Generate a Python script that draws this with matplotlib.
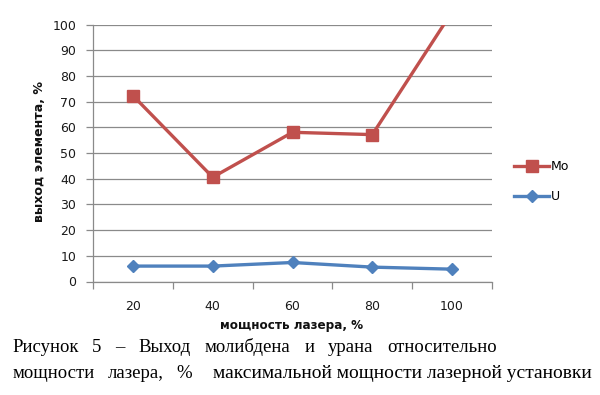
import matplotlib
matplotlib.use("Agg")
import matplotlib.pyplot as plt
from matplotlib.lines import Line2D

categories = ["20", "40", "60", "80", "100"]
mo_values = [72.4, 40.6, 58.1, 57.2, 105.0]
u_values = [6.0, 6.0, 7.4, 5.6, 4.8]
series_names = ["Mo", "U"]
y_ticks = list(range(0, 101, 10))
y_label = "выход элемента, %"
x_label = "мощность лазера, %"
caption_line1 = ["Рисунок", "5", "–", "Выход", "молибдена", "и", "урана", "относительно"]
caption_line2_words = ["мощности", "лазера,", "%"]
caption_line2_tail = "максимальной мощности лазерной установки"

W, H = 600, 395
fig = plt.figure(figsize=(W / 100, H / 100), dpi=100)
fig.patch.set_facecolor("white")
renderer = fig.canvas.get_renderer()


def px(xp):
    return xp / W


def py(yp):
    return 1 - yp / H


def width_of(t):
    return t.get_window_extent(renderer=renderer).width


def fit_text(xp, yp, s, target_w, base=10, **kw):
    t = fig.text(px(xp), py(yp), s, fontsize=base, **kw)
    w = width_of(t)
    t.set_fontsize(base * target_w / w)
    return t


ax = fig.add_axes([px(93), py(281.5), 399 / W, 256.8 / H])
x = list(range(len(categories)))

grid_c = "#8a8a8a"
red = "#C0504D"
blue = "#4F81BD"
sans = ["DejaVu Sans"]
tick_font = dict(family=sans, size=9)

ax.plot(x, mo_values, color=red, lw=2.4, marker="s", ms=8.5, zorder=3,
        solid_joinstyle="round", label=series_names[0])
ax.plot(x, u_values, color=blue, lw=2.4, marker="D", ms=6.2, zorder=3,
        solid_joinstyle="round", label=series_names[1])

ax.set_xlim(-0.5, len(categories) - 0.5)
ax.set_ylim(0, 100)
ax.set_yticks(y_ticks)
ax.set_yticklabels([str(v) for v in y_ticks], **tick_font)
ax.set_xticks(x)
ax.set_xticklabels(categories, **tick_font)
ax.set_xticks([i - 0.5 for i in range(len(categories) + 1)], minor=True)
ax.tick_params(axis="x", which="major", length=0, pad=13, labelcolor="#1a1a1a")
ax.tick_params(axis="x", which="minor", length=5, color=grid_c, width=0.9)
ax.tick_params(axis="y", which="major", length=5, color=grid_c, width=0.9, pad=7,
               labelcolor="#1a1a1a")
for sp in ["top", "right"]:
    ax.spines[sp].set_visible(False)
for sp in ["left", "bottom"]:
    ax.spines[sp].set_color(grid_c)
    ax.spines[sp].set_linewidth(0.9)
ax.yaxis.grid(True, color=grid_c, lw=0.9)
ax.set_axisbelow(True)

# axis titles
yl = fig.text(px(40), py(151), y_label, rotation=90, ha="center", va="center",
              fontsize=9, fontweight="bold", family=sans, color="#111111")
h = yl.get_window_extent(renderer=renderer).height
yl.set_fontsize(9 * 141 / h)
fit_text(292, 325, x_label, 143, base=9, ha="center", va="center",
         fontweight="bold", family=sans, color="#111111")

# legend
handles = [Line2D([], [], color=red, lw=2.4, marker="s", ms=8),
           Line2D([], [], color=blue, lw=2.4, marker="D", ms=6)]
fig.legend(handles, series_names, loc="center left", bbox_to_anchor=(px(503), py(181.5)),
           frameon=False, handlelength=2.8, handletextpad=0.15, labelspacing=1.35,
           prop=dict(family=sans, size=9))

# caption (justified lines)
serif = ["Liberation Serif", "DejaVu Serif"]
cap_size = 13.5


def justify(words, x0, x1, yp, size):
    texts = [fig.text(px(x0), py(yp), w, ha="left", va="baseline", family=serif,
                      fontsize=size, color="black") for w in words]
    widths = [width_of(t) for t in texts]
    gap = (x1 - x0 - sum(widths)) / max(len(words) - 1, 1)
    cur = x0
    for t, w in zip(texts, widths):
        t.set_x(px(cur))
        cur += w + gap


justify(caption_line1, 12, 497, 352, cap_size)
justify(caption_line2_words, 13, 192, 378, cap_size)
fit_text(213, 378, caption_line2_tail, 380, base=cap_size, ha="left", va="baseline",
         family=serif, color="black")

fig.savefig("out.png", dpi=100)
